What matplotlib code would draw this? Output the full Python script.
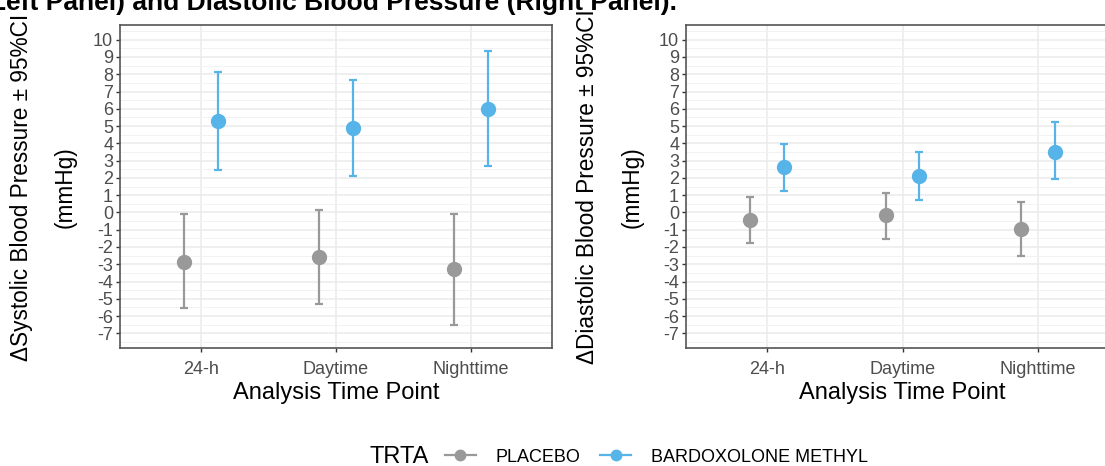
import numpy as np
import matplotlib
matplotlib.use('Agg')
import matplotlib.pyplot as plt
from matplotlib.lines import Line2D

plt.rcParams['font.family'] = ['Liberation Sans', 'DejaVu Sans']
plt.rcParams['axes.unicode_minus'] = False

#### data ####
timepoints = ['24-h', 'Daytime', 'Nighttime']
groups = ['PLACEBO', 'BARDOXOLONE METHYL']
colors = ['#999999', '#56B4E9']

# systolic (left panel)
sbp_mean = {'PLACEBO': [-2.87, -2.60, -3.29],
            'BARDOXOLONE METHYL': [5.27, 4.87, 6.00]}
sbp_lo = {'PLACEBO': [-5.54, -5.29, -6.50],
          'BARDOXOLONE METHYL': [2.44, 2.12, 2.71]}
sbp_hi = {'PLACEBO': [-0.12, 0.12, -0.08],
          'BARDOXOLONE METHYL': [8.12, 7.69, 9.37]}

# diastolic (right panel)
dbp_mean = {'PLACEBO': [-0.46, -0.17, -0.96],
            'BARDOXOLONE METHYL': [2.62, 2.12, 3.52]}
dbp_lo = {'PLACEBO': [-1.79, -1.52, -2.54],
          'BARDOXOLONE METHYL': [1.25, 0.73, 1.92]}
dbp_hi = {'PLACEBO': [0.87, 1.15, 0.63],
          'BARDOXOLONE METHYL': [3.98, 3.52, 5.23]}

yticks = list(range(-7, 11))

W, H = 1105, 466
fig = plt.figure(figsize=(W / 100, H / 100), dpi=100)


def px_box(left, top, right, bottom):
    return [left / W, 1 - bottom / H, (right - left) / W, (bottom - top) / H]


def panel(ax, means, los, his):
    x = np.arange(len(timepoints))
    for k, g in enumerate(groups):
        xs = x + (k - 0.5) * 0.25
        m = np.array(means[g])
        yerr = [m - np.array(los[g]), np.array(his[g]) - m]
        ax.errorbar(xs, m, yerr=yerr, fmt='o', color=colors[k], ms=10,
                    elinewidth=1.6, capsize=2.6, capthick=1.6, zorder=3)
    ax.set_xlim(-0.6, 2.6)
    ax.set_ylim(-7.85, 10.85)
    ax.set_xticks(x)
    ax.set_xticklabels(timepoints)
    ax.set_yticks(yticks)
    ax.set_yticks(np.arange(-7.5, 10.6, 1.0), minor=True)
    ax.grid(True, which='major', color='#EBEBEB', lw=1.1, zorder=0)
    ax.grid(True, which='minor', axis='y', color='#F2F2F2', lw=0.7, zorder=0)
    ax.set_axisbelow(True)
    ax.tick_params(which='major', length=2.75, width=1, color='#333333',
                   labelcolor='#4D4D4D', labelsize=13)
    ax.tick_params(axis='y', pad=2.2)
    ax.tick_params(axis='x', pad=6.5)
    ax.tick_params(which='minor', length=0)
    for s in ax.spines.values():
        s.set_color('#555555')
        s.set_linewidth(1.2)
    ax.set_xlabel('Analysis Time Point', fontsize=17, labelpad=3)


ax1 = fig.add_axes(px_box(120, 25, 552, 348))
panel(ax1, sbp_mean, sbp_lo, sbp_hi)
ax2 = fig.add_axes(px_box(686, 25, 1119, 348))
panel(ax2, dbp_mean, dbp_lo, dbp_hi)

# y labels (two lines each)
yc = 1 - 187 / H
fig.text(22 / W, yc, '\u0394Systolic Blood Pressure \u00b1 95%CI', rotation=90,
         ha='center', va='center', fontsize=16.3)
fig.text(65 / W, yc, '(mmHg)', rotation=90, ha='center', va='center', fontsize=16.3)
fig.text(588 / W, yc, '\u0394Diastolic Blood Pressure \u00b1 95%CI', rotation=90,
         ha='center', va='center', fontsize=16.3)
fig.text(632 / W, yc, '(mmHg)', rotation=90, ha='center', va='center', fontsize=16.3)

# clipped title
fig.text(677 / W, 1 - 10 / H,
         '(Left Panel) and Diastolic Blood Pressure (Right Panel).',
         ha='right', va='baseline', fontsize=19, fontweight='bold')

# legend
fig.text(370 / W, 1 - 457 / H, 'TRTA', ha='left', va='center', fontsize=17)
handles = [Line2D([], [], color=c, marker='o', ms=7.5, lw=1.6) for c in colors]
fig.legend(handles, groups, loc='center left', bbox_to_anchor=(445 / W, 1 - 457 / H),
           ncol=2, frameon=False, fontsize=13, handlelength=1.7,
           handletextpad=1.1, columnspacing=1.1, borderpad=0, borderaxespad=0)

fig.savefig('out.png', dpi=100)
